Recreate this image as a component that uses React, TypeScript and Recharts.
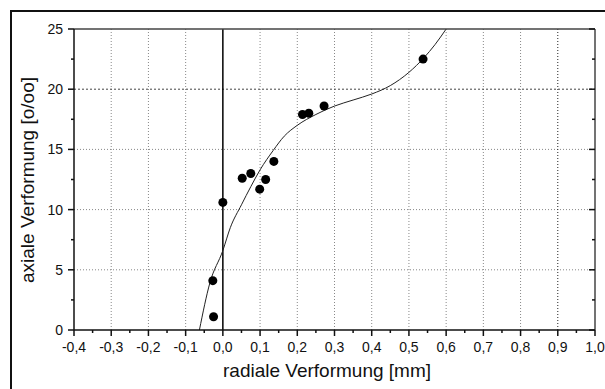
import React from 'react';
import { ComposedChart, Line, Scatter, XAxis, YAxis, ReferenceLine } from 'recharts';

// measured points
const pointX = [0.0, -0.027, -0.025, 0.052, 0.075, 0.099, 0.115, 0.137, 0.214, 0.231, 0.272, 0.538];
const pointY = [10.6, 4.1, 1.1, 12.6, 13.0, 11.7, 12.5, 14.0, 17.9, 18.0, 18.6, 22.5];

// fitted curve
const curveX = [-0.063, -0.035, 0.0, 0.02, 0.05, 0.075, 0.1, 0.135, 0.165, 0.2, 0.25, 0.3, 0.35, 0.4, 0.45, 0.5, 0.54, 0.57, 0.6];
const curveY = [0, 3.9, 6.6, 8.5, 10.4, 11.9, 13.3, 14.9, 16.1, 17.0, 17.9, 18.6, 19.1, 19.6, 20.3, 21.4, 22.6, 23.7, 25.0];

const xMajor = [-0.4, -0.3, -0.2, -0.1, 0.0, 0.1, 0.2, 0.3, 0.4, 0.5, 0.6, 0.7, 0.8, 0.9, 1.0];
const xMinor = [-0.35, -0.25, -0.15, -0.05, 0.05, 0.15, 0.25, 0.35, 0.45, 0.55, 0.65, 0.75, 0.85, 0.95];
const yMajor = [0, 5, 10, 15, 20, 25];
const yMinor = [2.5, 7.5, 12.5, 17.5, 22.5];

const xGrid = [-0.3, -0.2, -0.1, 0.1, 0.2, 0.3, 0.4, 0.5, 0.6, 0.7, 0.8];
const yGrid = [5, 10, 15];

const points = pointX.map((x, i) => ({ x, y: pointY[i] }));
const curve = curveX.map((x, i) => ({ x, y: curveY[i] }));

const xTicks = [...xMajor, ...xMinor].sort((a, b) => a - b);
const yTicks = [...yMajor, ...yMinor].sort((a, b) => a - b);

const isMajorX = (v: number) => xMajor.some(m => Math.abs(m - v) < 1e-6);
const isMajorY = (v: number) => yMajor.some(m => Math.abs(m - v) < 1e-6);

const FONT = '"Liberation Sans", Arial, sans-serif';
const AXIS = '#111';

const fmtX = (v: number) => (Math.abs(v) < 1e-9 ? '0,0' : v.toFixed(1).replace('.', ','));

// tick drawers: line length depends on major/minor, label only where wanted
const BottomTick = (props: any) => {
  const { x, y, payload } = props;
  const major = isMajorX(payload.value);
  return (
    <g>
      <line x1={x} x2={x} y1={y} y2={y + (major ? 6 : 3)} stroke={AXIS} strokeWidth={1.5} />
      {major && (
        <text x={x} y={y + 22} textAnchor="middle" fontSize={14} fontFamily={FONT} fill="#111">
          {fmtX(payload.value)}
        </text>
      )}
    </g>
  );
};

const TopTick = (props: any) => {
  const { x, y, payload } = props;
  const major = isMajorX(payload.value);
  return <line x1={x} x2={x} y1={y} y2={y + (major ? 6 : 3)} stroke={AXIS} strokeWidth={1.5} />;
};

const LeftTick = (props: any) => {
  const { x, y, payload } = props;
  const major = isMajorY(payload.value);
  return (
    <g>
      <line x1={x} x2={x - (major ? 6 : 3)} y1={y} y2={y} stroke={AXIS} strokeWidth={1.5} />
      {major && (
        <text x={x - 11} y={y + 5} textAnchor="end" fontSize={14} fontFamily={FONT} fill="#111">
          {payload.value}
        </text>
      )}
    </g>
  );
};

const RightTick = (props: any) => {
  const { x, y, payload } = props;
  const major = isMajorY(payload.value);
  return <line x1={x} x2={x - (major ? 6 : 3)} y1={y} y2={y} stroke={AXIS} strokeWidth={1.5} />;
};

const Dot = (props: any) => <circle cx={props.cx} cy={props.cy} r={4.5} fill="#000" />;

export default function App() {
  return (
    <div style={{ position: 'absolute', left: 0, top: 0, width: 605, height: 389, overflow: 'hidden', background: '#fff' }}>
      <div
        style={{
          position: 'absolute',
          left: 10,
          top: 10,
          width: 700,
          height: 500,
          borderTop: '2px solid #111',
          borderLeft: '2px solid #111',
        }}
      />
      <div style={{ position: 'absolute', left: 0, top: 0 }}>
        <ComposedChart width={605} height={389} margin={{ top: 29, right: 10, left: 14, bottom: 19 }}>
          <XAxis
            xAxisId="b"
            type="number"
            dataKey="x"
            domain={[-0.4, 1.0]}
            ticks={xTicks}
            interval={0}
            allowDataOverflow
            tickSize={0}
            tickMargin={0}
            tickLine={false}
            tick={<BottomTick />}
            height={40}
            stroke={AXIS}
            strokeWidth={1.5}
          />
          <XAxis
            xAxisId="t"
            type="number"
            orientation="top"
            mirror
            domain={[-0.4, 1.0]}
            ticks={xTicks}
            interval={0}
            allowDataOverflow
            tickSize={0}
            tickMargin={0}
            tickLine={false}
            tick={<TopTick />}
            stroke="#444"
            strokeWidth={1.5}
          />
          <YAxis
            yAxisId="l"
            type="number"
            domain={[0, 25]}
            ticks={yTicks}
            interval={0}
            allowDataOverflow
            tickSize={0}
            tickMargin={0}
            tickLine={false}
            tick={<LeftTick />}
            width={60}
            stroke={AXIS}
            strokeWidth={1.5}
          />
          <YAxis
            yAxisId="r"
            type="number"
            orientation="right"
            mirror
            domain={[0, 25]}
            ticks={yTicks}
            interval={0}
            allowDataOverflow
            tickSize={0}
            tickMargin={0}
            tickLine={false}
            tick={<RightTick />}
            stroke="#444"
            strokeWidth={1.5}
          />

          {xGrid.map(v => (
            <ReferenceLine key={'gx' + v} xAxisId="b" yAxisId="l" x={v} stroke="#888" strokeDasharray="1 2" />
          ))}
          {yGrid.map(v => (
            <ReferenceLine key={'gy' + v} xAxisId="b" yAxisId="l" y={v} stroke="#888" strokeDasharray="1 2" />
          ))}
          <ReferenceLine xAxisId="b" yAxisId="l" x={0.9} stroke="#222" strokeDasharray="1 2" />
          <ReferenceLine xAxisId="b" yAxisId="l" y={20} stroke="#444" strokeDasharray="2 2" />
          <ReferenceLine xAxisId="b" yAxisId="l" x={0} stroke="#000" strokeWidth={1.5} />

          <Line
            xAxisId="b"
            yAxisId="l"
            data={curve}
            dataKey="y"
            type="monotone"
            stroke="#222"
            strokeWidth={1}
            dot={false}
            activeDot={false}
            isAnimationActive={false}
          />
          <Scatter
            xAxisId="b"
            yAxisId="l"
            data={points}
            dataKey="y"
            shape={<Dot />}
            isAnimationActive={false}
          />

          <text x={327} y={377} textAnchor="middle" fontSize={19} fontFamily={FONT} fill="#111">
            radiale Verformung [mm]
          </text>
          <text
            x={34}
            y={180}
            textAnchor="middle"
            fontSize={19}
            fontFamily={FONT}
            fill="#111"
            transform="rotate(-90 34 180)"
          >
            axiale Verformung [o/oo]
          </text>
        </ComposedChart>
      </div>
    </div>
  );
}
